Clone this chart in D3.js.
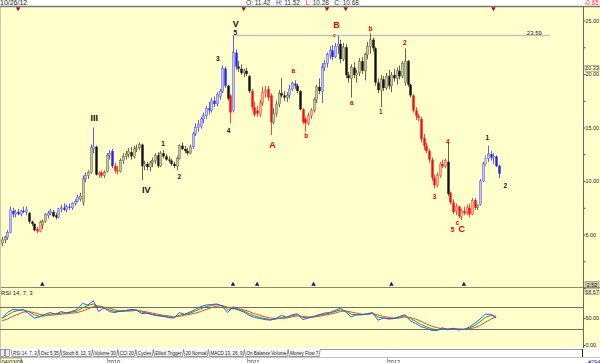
<!DOCTYPE html>
<html>
<head>
<meta charset="utf-8">
<script src="https://cdn.jsdelivr.net/npm/d3@7"></script>
<style>
  body { margin: 0; background: #fff; }
  svg { display: block; font-family: "Liberation Sans", Arial, sans-serif; }
</style>
</head>
<body>
<div id="chart"></div>
<script>
// weekly bars, first bar 04/03/09, last bar 10/26/12
var startDate = new Date(2009, 3, 3);
var endDate = new Date(2012, 9, 26);

var opens = [
  4.2,4.5,4.7,5.2,7.2,6.9,7.1,6.9,7.2,7.1,
  7.0,6.2,6.0,5.5,5.3,5.9,6.2,6.8,7.0,7.1,
  6.8,6.6,7.4,7.5,7.3,7.6,7.5,7.9,8.1,8.3,
  8.0,10.2,10.5,10.8,13.0,13.2,10.6,10.8,10.5,10.9,
  12.4,12.8,11.4,11.0,10.9,11.9,12.3,12.5,12.7,12.3,
  13.0,13.1,13.4,11.4,11.6,11.3,11.7,11.9,12.4,11.4,
  12.6,12.3,12.0,11.9,11.6,11.4,12.1,13.3,13.0,12.8,
  12.6,13.2,14.4,15.0,15.1,15.8,16.1,16.8,16.6,17.5,
  17.2,17.9,18.4,20.5,18.9,18.0,16.6,22.0,20.7,20.5,
  20.1,20.3,19.8,18.4,16.9,16.6,16.2,17.3,18.3,18.6,
  18.0,15.5,16.3,17.2,18.2,18.0,17.8,18.0,18.6,19.1,
  18.9,18.4,16.7,15.8,15.4,16.1,16.6,17.6,18.8,18.4,
  20.6,21.0,21.8,22.2,21.6,22.6,22.8,21.4,22.5,19.9,
  19.6,20.6,19.9,20.1,21.2,20.3,21.8,22.6,23.2,22.4,
  19.2,18.5,19.5,18.7,19.8,18.9,19.9,19.6,20.3,19.8,
  19.2,21.2,19.0,18.0,16.6,16.1,15.8,14.0,13.3,12.8,
  12.0,10.3,9.6,10.5,11.6,11.4,11.8,8.9,8.0,7.2,
  7.6,6.7,7.2,7.0,7.5,6.9,8.2,7.5,7.8,10.0,
  11.6,12.1,12.5,12.2,12.3,11.42
];
var highs = [
  4.8,4.9,5.4,7.6,7.5,7.3,7.4,7.3,7.6,7.6,
  7.1,6.3,6.0,5.7,6.3,6.4,7.0,7.2,7.4,7.3,
  7.0,7.5,7.8,7.9,7.8,7.9,8.0,8.3,8.7,8.9,
  10.5,10.8,11.0,13.4,15.0,13.3,10.9,11.0,11.0,12.6,
  12.9,13.0,11.7,11.4,12.1,12.6,12.8,13.1,13.2,13.3,
  13.4,13.6,13.5,11.9,11.8,11.9,12.2,12.6,12.7,12.8,
  12.9,12.5,12.3,12.1,11.8,12.3,13.4,13.6,13.3,13.1,
  13.4,14.6,15.4,15.7,16.0,16.4,17.0,17.4,17.8,17.9,
  18.3,18.6,20.8,20.7,19.0,18.1,23.59,22.3,21.2,20.9,
  20.5,20.6,19.9,18.6,17.4,17.0,17.6,18.8,18.9,18.9,
  18.2,16.8,17.5,18.5,19.6,18.4,18.3,19.0,19.3,19.4,
  19.1,18.5,16.8,16.0,16.4,16.8,17.8,19.0,19.6,21.0,
  21.3,22.0,22.6,22.7,22.9,23.59,23.2,22.9,22.8,20.2,
  20.9,21.1,20.4,21.5,21.6,22.0,23.0,23.8,23.4,22.5,
  19.6,19.9,19.8,20.1,20.4,20.2,20.5,20.6,20.8,21.2,
  22.4,21.3,19.1,18.1,16.9,16.3,16.0,14.4,13.6,13.0,
  12.2,10.6,10.8,11.8,12.0,12.1,13.6,9.0,8.3,7.9,
  7.7,7.4,7.6,7.8,7.9,8.4,8.4,7.8,10.2,11.8,
  12.4,13.3,12.8,12.6,12.4,11.52
];
var lows = [
  3.9,4.2,4.5,5.1,6.6,6.6,6.8,6.7,7.0,6.8,
  6.0,5.8,5.3,5.1,5.2,5.5,6.1,6.5,6.8,6.6,
  6.4,6.5,7.1,7.2,7.1,7.3,7.3,7.7,8.0,8.1,
  7.7,9.9,10.2,10.7,12.6,10.5,10.3,10.3,10.3,10.8,
  12.0,11.2,10.7,10.6,10.8,11.6,12.0,12.2,12.0,12.1,
  12.7,12.9,10.1,11.0,11.0,10.9,11.3,11.6,11.2,11.3,
  12.1,11.9,11.7,11.4,11.2,11.0,12.0,12.9,12.6,12.4,
  12.5,13.0,14.2,14.6,14.9,15.4,15.8,16.2,16.4,16.9,
  17.0,17.6,18.2,18.7,17.5,15.4,16.4,20.4,20.2,19.9,
  19.7,19.8,18.2,16.6,16.0,16.0,16.0,17.0,17.8,17.5,
  14.3,15.3,16.0,16.9,17.8,17.5,17.4,17.7,18.4,18.6,
  18.2,16.6,15.3,14.6,15.2,15.8,16.4,17.3,18.1,17.3,
  20.3,20.6,21.4,21.3,21.5,21.9,21.0,21.2,19.6,19.2,
  17.8,19.6,19.2,19.8,20.0,19.4,21.4,21.9,22.1,18.9,
  18.2,16.9,18.4,18.5,18.6,18.3,19.3,19.0,19.5,19.6,
  18.9,18.8,17.8,16.4,15.7,15.6,13.6,12.9,12.6,11.7,
  10.0,9.3,9.4,10.3,11.2,11.2,8.6,7.8,6.9,6.8,
  6.5,6.35,6.8,6.8,6.6,6.8,7.3,7.3,7.7,9.9,
  11.4,11.8,11.9,11.6,11.3,10.28
];
var closes = [
  4.5,4.7,5.2,7.3,6.9,7.1,6.9,7.2,7.1,7.3,
  6.2,6.0,5.4,5.3,6.1,6.2,6.9,7.0,7.2,6.7,
  6.6,7.4,7.5,7.3,7.6,7.5,7.9,8.1,8.5,8.6,
  10.2,10.5,10.8,13.1,13.2,10.6,10.7,10.5,10.8,12.4,
  12.6,11.4,11.0,10.9,11.9,12.3,12.5,12.8,12.3,13.0,
  13.1,13.4,11.4,11.6,11.3,11.7,11.9,12.4,11.4,12.6,
  12.3,12.0,11.9,11.6,11.4,12.1,13.3,13.0,12.8,12.6,
  13.2,14.4,15.0,15.3,15.8,16.1,16.8,16.6,17.5,17.2,
  18.1,18.4,20.5,18.9,17.7,16.4,22.0,20.7,20.5,20.1,
  20.3,20.0,18.4,16.9,16.2,16.3,17.3,18.3,18.5,17.8,
  15.5,16.3,17.2,18.2,18.0,17.8,18.0,18.6,19.1,18.9,
  18.4,16.7,15.5,15.4,16.1,16.6,17.6,18.8,18.4,20.6,
  21.0,21.8,22.2,21.6,22.6,22.8,21.4,22.5,19.9,19.6,
  20.6,19.9,20.1,21.2,20.3,21.8,22.6,23.2,22.4,19.2,
  18.5,19.5,18.7,19.8,18.9,19.9,19.6,20.3,19.8,21.0,
  21.2,19.0,18.0,16.6,16.1,15.9,13.9,13.3,12.8,12.0,
  10.3,9.6,10.5,11.6,11.4,11.9,8.8,8.0,7.1,7.6,
  6.7,7.2,7.0,7.5,6.9,8.2,7.5,7.7,10.0,11.6,
  12.1,12.5,12.2,12.3,11.4,10.68
];
// bar colouring of the expert: b = up trend, r = down trend, k = neutral, g = grey
var barTrend =
  "kkbbbbbbbb" + "kkkrrkkbbk" + "kbbbbbbbbk" + "kbkkbkrrkk" + "bbrrkkkkkk" +
  "kkkkkkkkkk" + "kkkkkkkkkk" + "kbbbbbbbbb" + "bbbbkrbbkk" + "kkkrrrrrrr" +
  "rkkkkkkbbb" + "kkrrrrkkkb" + "bbbbbbkkkk" + "kkkkkkkkkk" + "kkkkkkkkkk" +
  "kkkrrrrrrr" + "rrrrrrkrrr" + "rrrrrrrkbb" + "gbbbbb";

// RSI 14, 7, 3 read every second week
var rsiWeeks = d3.range(0, 186, 2);
var rsiMain = [
  49,60,66,65,65,58,50,52,57,60,57,62,59,62,66,77,74,82,62,69,
  62,60,63,64,66,65,58,59,56,54,53,51,50,60,57,61,66,71,74,75,
  76,72,60,71,65,61,55,51,49,47,46,49,55,51,56,58,47,50,53,56,
  59,60,64,68,61,52,56,56,58,60,46,50,48,49,53,56,45,40,34,31,
  27,27,32,28,31,28,29,33,40,48,57,57,50
];
var rsiAvg7 = [
  50,55,61,64,65,62,56,53,54,57,58,59,60,61,63,69,73,76,71,68,
  65,62,62,63,64,65,61,59,57,55,54,52,51,55,57,59,63,67,71,73,
  75,73,66,67,66,63,58,54,51,49,47,48,51,52,54,56,51,50,52,55,
  57,59,62,65,63,57,56,56,57,59,52,50,49,49,51,54,49,44,38,34,
  30,28,30,29,30,29,29,31,36,43,51,55,53
];
var rsiAvg3 = [
  45,48,53,57,61,62,60,57,55,55,56,57,58,59,60,63,67,71,72,70,
  68,65,63,63,63,64,63,61,59,57,55,54,52,53,55,57,59,62,66,69,
  72,73,70,68,67,65,62,58,55,52,50,49,49,50,52,54,53,52,52,53,
  55,57,59,62,63,61,59,57,57,58,56,53,51,50,50,52,51,48,44,39,
  35,32,30,30,30,30,29,30,32,36,42,48,52
];

var priceTicks = d3.range(0, 26, 2.5);
var rsiTicks = [0, 50];
var rsiLevels = [30, 70];

// Elliott wave count
var waveText  = ["III","IV","V","1","2","3","4","5","A","a","b","B","c","a","b","1","2","3","4","5","c","C","1","2"];
var waveWeek  = [34.4,53.7,87,60,66,80.4,84.4,86.9,100.7,108.5,113.3,124.6,123.8,130.3,137.2,141.1,150,161.1,166,167.8,169.6,171.2,180.7,187.4];
var wavePrice = [15.9,9.2,24.7,13.5,10.4,21.4,14.7,23.9,13.4,20.3,14.2,24.6,23.6,17.3,24.2,16.5,22.9,8.5,13.7,5.4,6.1,5.5,14.0,9.6];
var waveColor = "kkkkkkkkrrrrrrrrrrrrrrkk";
var waveBig   = "111000001001000000000100";

var peakLevel = 23.59;
var peakFrom = 86, peakTo = 204;

var cycleTops = [6, 90, 121, 128, 183];
var cycleBottoms = [15, 86, 95, 116, 145, 172];

var tabNames = ["RSI 14, 7, 3","Osc 5,35","Stoch 8, 12, 3","Volume 30","CCI 20","Cycles",
  "Elliott Trigger","20 Normal","MACD 13, 26, 9","On Balance Volume","Money Flow 7"];

var width = 600, height = 363;
var plotRight = 583;

var svg = d3.select('#chart').append('svg')
  .attr('width', width).attr('height', height);

function weekDate(w) {
  return new Date(startDate.getTime() + w * 7 * 864e5);
}

var x = d3.scaleTime().domain([startDate, endDate]).range([2, 501.5]);
var y = d3.scaleLinear().domain([0, 25]).range([288, 20.5]);
var yr = d3.scaleLinear().domain([0, 100]).range([345, 291]);

// backgrounds
svg.append('rect').attr('x', 0).attr('y', 0).attr('width', width).attr('height', 6).attr('fill', '#fff');
svg.append('rect').attr('x', 0).attr('y', 7).attr('width', width).attr('height', 281).attr('fill', '#FFFFCC');
svg.append('rect').attr('x', 0).attr('y', 288).attr('width', width).attr('height', 60).attr('fill', '#FFFFCC');
svg.append('rect').attr('x', 0).attr('y', 348).attr('width', width).attr('height', 15).attr('fill', '#fff');

svg.append('line').attr('x1', 0).attr('x2', width).attr('y1', 6.5).attr('y2', 6.5)
  .attr('stroke', '#777').attr('stroke-width', 1.5);
svg.append('line').attr('x1', 0).attr('x2', width).attr('y1', 287.5).attr('y2', 287.5)
  .attr('stroke', '#8a8a6a').attr('stroke-width', 1);
svg.append('line').attr('x1', 0.5).attr('x2', 0.5).attr('y1', 7).attr('y2', 348)
  .attr('stroke', '#c8c8b0');

// header
svg.append('text').attr('x', 0).attr('y', 4.5).attr('font-size', 7).attr('fill', '#222').text('10/26/12');
var hdr = svg.append('text').attr('x', 246).attr('y', 4.5).attr('font-size', 6.5).attr('fill', '#222');
[['O: ', '#333'], ['11.42   ', '#333'], ['H: ', '#2020e0'], ['11.52   ', '#333'],
 ['L: ', '#e02020'], ['10.28   ', '#333'], ['C: ', '#333'], ['10.68', '#333']].forEach(function(p) {
  hdr.append('tspan').attr('fill', p[1]).attr('xml:space', 'preserve').text(p[0]);
});
svg.append('text').attr('x', 599).attr('y', 4.5).attr('font-size', 6.5).attr('text-anchor', 'end')
  .attr('fill', '#ff3030').text('-0.65');

// peak level line
svg.append('line')
  .attr('x1', x(weekDate(peakFrom))).attr('x2', x(weekDate(peakTo)))
  .attr('y1', y(peakLevel)).attr('y2', y(peakLevel))
  .attr('stroke', '#c4c4c4').attr('stroke-width', 1.5);
svg.append('text').attr('x', x(weekDate(peakTo)) - 8).attr('y', y(peakLevel) - 1)
  .attr('font-size', 6).attr('text-anchor', 'end').attr('fill', '#222').text(peakLevel.toFixed(2));

// candles
var candleStyle = {
  b: { up: '#c4c4f0', down: '#2424f0', line: '#5a5af0' },
  r: { up: '#ffb4a0', down: '#f01010', line: '#f04a3a' },
  k: { up: '#c8c8a2', down: '#111111', line: '#66664e' },
  g: { up: '#cccccc', down: '#888888', line: '#999999' }
};
var bars = d3.range(closes.length);
var gBars = svg.append('g');
gBars.selectAll('line').data(bars).enter().append('line')
  .attr('x1', function(i) { return Math.round(x(weekDate(i))) + 0.5; })
  .attr('x2', function(i) { return Math.round(x(weekDate(i))) + 0.5; })
  .attr('y1', function(i) { return y(highs[i]); })
  .attr('y2', function(i) { return y(lows[i]); })
  .attr('stroke', function(i) { return candleStyle[barTrend[i]].line; })
  .attr('stroke-width', 1);
gBars.selectAll('rect').data(bars).enter().append('rect')
  .attr('x', function(i) { return Math.round(x(weekDate(i))) - 0.7; })
  .attr('width', 2.4)
  .attr('y', function(i) { return y(Math.max(opens[i], closes[i])); })
  .attr('height', function(i) { return Math.max(1, Math.abs(y(opens[i]) - y(closes[i]))); })
  .attr('fill', function(i) {
    var s = candleStyle[barTrend[i]];
    return closes[i] >= opens[i] ? s.up : s.down;
  })
  .attr('stroke', function(i) {
    var s = candleStyle[barTrend[i]];
    return closes[i] >= opens[i] ? s.line : 'none';
  })
  .attr('stroke-width', 0.5);

// wave labels
svg.append('g').selectAll('text').data(waveText).enter().append('text')
  .attr('x', function(d, i) { return x(weekDate(waveWeek[i])); })
  .attr('y', function(d, i) { return y(wavePrice[i]); })
  .attr('dy', '0.35em')
  .attr('text-anchor', 'middle')
  .attr('font-weight', 'bold')
  .attr('font-size', function(d, i) { return waveBig[i] === '1' ? 9 : (d === 'c' && i === 12 ? 5 : 6.5); })
  .attr('fill', function(d, i) { return waveColor[i] === 'r' ? '#e80000' : '#111'; })
  .text(function(d) { return d; });

// cycle markers
var tri = d3.symbol().type(d3.symbolTriangle).size(9);
svg.append('g').selectAll('path').data(cycleTops).enter().append('path')
  .attr('d', tri)
  .attr('transform', function(w) { return 'translate(' + x(weekDate(w)) + ',8.5) rotate(180)'; })
  .attr('fill', '#9a1a1a');
svg.append('g').selectAll('path').data(cycleBottoms).enter().append('path')
  .attr('d', tri)
  .attr('transform', function(w) { return 'translate(' + x(weekDate(w)) + ',284.5)'; })
  .attr('fill', '#1a1a5a');

// price axis
var axisFont = 5.4;
var priceAxis = d3.axisRight(y).tickValues(priceTicks)
  .tickSize(2.5)
  .tickFormat(function(d) { return d > 0 && d % 5 === 0 ? d.toFixed(2) : ''; });
var gA = svg.append('g').attr('transform', 'translate(' + plotRight + ',0)').call(priceAxis);
gA.select('.domain').remove();
gA.selectAll('.tick line').attr('stroke', '#555');
gA.selectAll('.tick text').attr('font-size', axisFont).attr('x', 2.5).attr('fill', '#222')
  .attr('font-family', '"Liberation Sans", Arial, sans-serif');
svg.append('line').attr('x1', plotRight + 0.5).attr('x2', plotRight + 0.5).attr('y1', 7).attr('y2', 348)
  .attr('stroke', '#666').attr('stroke-width', 1);

// boxed value labels on the right
function valueBox(py, txt, fill) {
  svg.append('rect').attr('x', plotRight + 2).attr('y', py - 3).attr('width', 14).attr('height', 6)
    .attr('fill', fill).attr('stroke', '#777').attr('stroke-width', 0.5);
  svg.append('text').attr('x', plotRight + 9).attr('y', py + 2).attr('text-anchor', 'middle')
    .attr('font-size', axisFont).attr('fill', '#222').text(txt);
}
valueBox(y(20.33) - 2, '20.33', '#FFFFCC');
valueBox(284.5, '2.52', '#c8c8a0');
valueBox(291.5, '58.57', '#FFFFCC');

// RSI panel
svg.append('text').attr('x', 1).attr('y', 294.5).attr('font-size', 6).attr('fill', '#222').text('RSI 14, 7, 3');
svg.append('g').selectAll('line').data(rsiLevels).enter().append('line')
  .attr('x1', 0).attr('x2', plotRight)
  .attr('y1', function(d) { return Math.round(yr(d)) + 0.5; })
  .attr('y2', function(d) { return Math.round(yr(d)) + 0.5; })
  .attr('stroke', '#6e6e5a').attr('stroke-width', 1);

function rsiPath(values, color) {
  var line = d3.line()
    .x(function(d, i) { return x(weekDate(rsiWeeks[i])); })
    .y(function(d) { return yr(d); });
  svg.append('path').datum(values).attr('d', line)
    .attr('fill', 'none').attr('stroke', color).attr('stroke-width', 1);
}
rsiPath(rsiAvg3, '#ff3a3a');
rsiPath(rsiAvg7, '#10b010');
rsiPath(rsiMain, '#4848ff');

var rsiAxis = d3.axisRight(yr).tickValues(rsiTicks).tickSize(2.5)
  .tickFormat(function(d) { return d.toFixed(2); });
var gR = svg.append('g').attr('transform', 'translate(' + plotRight + ',0)').call(rsiAxis);
gR.select('.domain').remove();
gR.selectAll('.tick line').attr('stroke', '#555');
gR.selectAll('.tick text').attr('font-size', axisFont).attr('x', 2.5).attr('fill', '#222')
  .attr('font-family', '"Liberation Sans", Arial, sans-serif');

// indicator tabs
var tabs = svg.append('g');
tabs.append('rect').attr('x', 0.5).attr('y', 349.5).attr('width', 4).attr('height', 7)
  .attr('fill', '#eee').attr('stroke', '#444').attr('stroke-width', 0.5);
tabs.append('rect').attr('x', 5.5).attr('y', 349.5).attr('width', 4).attr('height', 7)
  .attr('fill', '#eee').attr('stroke', '#444').attr('stroke-width', 0.5);
var tabX = 11;
tabNames.forEach(function(name, i) {
  var t = tabs.append('text').attr('x', tabX + 2).attr('y', 355).attr('font-size', 4.5)
    .attr('fill', '#222').text(name);
  var w = t.node().getComputedTextLength() + 4;
  tabs.insert('path', 'text')
    .attr('d', 'M' + tabX + ',349.5 L' + (tabX + 1.2) + ',356.5 L' + (tabX + w - 1.2) + ',356.5 L' + (tabX + w) + ',349.5')
    .attr('fill', i === 0 ? '#fff' : '#f4f4f4').attr('stroke', '#333').attr('stroke-width', 0.5);
  tabX += w;
});
svg.append('line').attr('x1', tabX).attr('x2', plotRight).attr('y1', 349.5).attr('y2', 349.5)
  .attr('stroke', '#333').attr('stroke-width', 0.5);
svg.append('line').attr('x1', plotRight - 0.5).attr('x2', plotRight - 0.5).attr('y1', 349).attr('y2', 357)
  .attr('stroke', '#222').attr('stroke-width', 1);

// date axis
svg.append('line').attr('x1', 0).attr('x2', width).attr('y1', 357.5).attr('y2', 357.5)
  .attr('stroke', '#888').attr('stroke-width', 0.5);
svg.append('rect').attr('x', 0.5).attr('y', 358).attr('width', 21).attr('height', 6)
  .attr('fill', '#FFFFCC').attr('stroke', '#555').attr('stroke-width', 0.5);
svg.append('text').attr('x', 1.5).attr('y', 363.5).attr('font-size', 5.5).attr('fill', '#222')
  .text(d3.timeFormat('%m/%d/%y')(startDate));
var yearTicks = x.ticks(d3.timeYear.every(1));
svg.append('g').selectAll('text').data(yearTicks).enter().append('text')
  .attr('x', function(d) { return x(d) + 1; })
  .attr('y', 363.5).attr('font-size', 5.5).attr('fill', '#222')
  .text(d3.timeFormat('%Y'));
svg.append('g').selectAll('line').data(yearTicks).enter().append('line')
  .attr('x1', function(d) { return Math.round(x(d)) + 0.5; })
  .attr('x2', function(d) { return Math.round(x(d)) + 0.5; })
  .attr('y1', 358).attr('y2', 363).attr('stroke', '#555').attr('stroke-width', 0.5);
svg.append('text').attr('x', 588).attr('y', 363.5).attr('font-size', 5.5).attr('fill', '#2020e0').text('#294');
</script>
</body>
</html>
